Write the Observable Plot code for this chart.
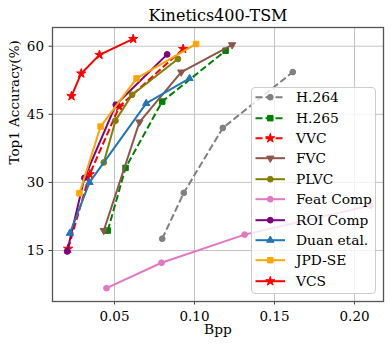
<!DOCTYPE html>
<html><head><meta charset="utf-8">
<script src="https://cdn.jsdelivr.net/npm/d3@7"></script>
<script src="https://cdn.jsdelivr.net/npm/@observablehq/plot@0.6"></script>
<style>
body{margin:0;background:#fff;}
#wrap{position:relative;width:391px;height:346px;font-family:"DejaVu Serif",serif;}
#legend{position:absolute;left:251px;top:86.5px;width:125px;height:207.5px;box-sizing:border-box;background:rgba(255,255,255,0.8);border:1px solid #cccccc;border-radius:4px;}
.row{position:absolute;left:0;height:20.4px;width:123px;}
.row svg{position:absolute;left:0;top:0;}
.row span{position:absolute;left:44px;top:0;line-height:20.4px;font-size:13.8px;color:#000;white-space:nowrap;}
</style></head>
<body><div id="wrap"></div>
<script>
// ---- data ----
const title = "Kinetics400-TSM";
const xLabel = "Bpp";
const yLabel = "Top1 Accuracy(%)";
const xTicks = [0.05, 0.10, 0.15, 0.20];
const yTicks = [15, 30, 45, 60];

const seriesNames = ["H.264", "H.265", "VVC", "FVC", "PLVC", "Feat Comp", "ROI Comp", "Duan etal.", "JPD-SE", "VCS"];

const h264Bpp = [0.0798, 0.0933, 0.1177, 0.1614];
const h264Acc = [17.6, 27.7, 42.0, 54.3];
const h265Bpp = [0.0458, 0.0569, 0.0798, 0.1194];
const h265Acc = [19.4, 33.2, 47.8, 59.0];
const vvcBpp = [0.0210, 0.0345, 0.0530, 0.0929];
const vvcAcc = [15.4, 31.8, 46.7, 59.4];
const fvcBpp = [0.0433, 0.0656, 0.0917, 0.1235];
const fvcAcc = [19.4, 43.3, 54.3, 60.3];
const plvcBpp = [0.0433, 0.0506, 0.0610, 0.0896];
const plvcAcc = [34.4, 43.6, 49.3, 57.2];
const featBpp = [0.0450, 0.0794, 0.1313, 0.2100];
const featAcc = [6.7, 12.3, 18.5, 24.9];
const roiBpp = [0.0204, 0.0312, 0.0508, 0.0829];
const roiAcc = [14.8, 31.0, 47.1, 58.2];
const duanBpp = [0.0221, 0.0344, 0.0698, 0.0969];
const duanAcc = [18.8, 30.0, 47.4, 52.9];
const jpdBpp = [0.0281, 0.0413, 0.0638, 0.1010];
const jpdAcc = [27.6, 42.3, 52.9, 60.5];
const vcsBpp = [0.0231, 0.0292, 0.0406, 0.0617];
const vcsAcc = [49.0, 54.0, 58.1, 61.6];

const bppLists = [h264Bpp, h265Bpp, vvcBpp, fvcBpp, plvcBpp, featBpp, roiBpp, duanBpp, jpdBpp, vcsBpp];
const accLists = [h264Acc, h265Acc, vvcAcc, fvcAcc, plvcAcc, featAcc, roiAcc, duanAcc, jpdAcc, vcsAcc];

// ---- styles ----
const colors = ["#808080", "#008000", "#ff0000", "#8c564b", "#808000", "#e377c2", "#800080", "#1f77b4", "#ffa500", "#ff0000"];
const dashed = [true, true, true, false, false, false, false, false, false, false];
const triangleDown = {
  draw(ctx, size) {
    const y = Math.sqrt(size / (Math.sqrt(3) * 3));
    ctx.moveTo(0, 2 * y);
    ctx.lineTo(-Math.sqrt(3) * y, -y);
    ctx.lineTo(Math.sqrt(3) * y, -y);
    ctx.closePath();
  }
};
const markerTypes = [d3.symbolCircle, d3.symbolSquare, d3.symbolStar, triangleDown, d3.symbolCircle, d3.symbolCircle, d3.symbolCircle, d3.symbolTriangle, d3.symbolSquare, d3.symbolStar];
function markerR(t) {
  if (t === d3.symbolStar) return 2.9;
  if (t === d3.symbolSquare) return 3.1;
  if (t === d3.symbolCircle) return 2.9;
  return 2.7;
}

const table = [];
seriesNames.forEach((name, i) => {
  bppLists[i].forEach((b, j) => table.push({series: name, bpp: b, acc: accLists[i][j]}));
});

const seriesMarks = [];
seriesNames.forEach((name, i) => {
  const d = table.filter(r => r.series === name);
  seriesMarks.push(Plot.line(d, {x: "bpp", y: "acc", stroke: colors[i], strokeWidth: 2,
    strokeDasharray: dashed[i] ? "7,3" : null, strokeLinecap: "butt", strokeLinejoin: "round"}));
  seriesMarks.push(Plot.dot(d, {x: "bpp", y: "acc", symbol: markerTypes[i], r: markerR(markerTypes[i]),
    fill: colors[i], stroke: colors[i], strokeWidth: 1}));
});

const chart = Plot.plot({
  width: 391, height: 346,
  marginLeft: 52, marginRight: 8, marginTop: 27, marginBottom: 45,
  x: {domain: [0.01125, 0.2181]},
  y: {domain: [3.77, 64.12]},
  style: {fontFamily: "'DejaVu Serif', serif", fontSize: "13.5px", color: "#000", background: "#fff", overflow: "visible"},
  marks: [
    Plot.gridX(xTicks, {stroke: "#c4c4c4", strokeOpacity: 1, strokeWidth: 1}),
    Plot.gridY(yTicks, {stroke: "#c4c4c4", strokeOpacity: 1, strokeWidth: 1}),
    Plot.axisX(xTicks, {tickFormat: d3.format(".2f"), tickSize: 3.5, tickPadding: 6, label: null, fontSize: 13.5, stroke: "#444"}),
    Plot.axisY(yTicks, {tickSize: 3.5, tickPadding: 5, label: null, fontSize: 13.5, stroke: "#444"}),
    ...seriesMarks,
    Plot.frame({stroke: "#555", strokeWidth: 1.3}),
    Plot.text([title], {text: d => d, frameAnchor: "top", lineAnchor: "bottom", dy: -7, fontSize: 16, fill: "#000"}),
    Plot.text([xLabel], {text: d => d, frameAnchor: "bottom", lineAnchor: "bottom", dy: 32, fontSize: 13.8, fill: "#000"}),
    Plot.text([yLabel], {text: d => d, frameAnchor: "left", rotate: -90, dx: -38, fontSize: 13.5, fill: "#000"})
  ]
});

const wrap = document.getElementById("wrap");
wrap.appendChild(chart);

// ---- legend ----
const legend = document.createElement("div");
legend.id = "legend";
seriesNames.forEach((name, i) => {
  const row = document.createElement("div");
  row.className = "row";
  row.style.top = (-0.3 + i * 20.4) + "px";
  const svg = d3.create("svg").attr("width", 42).attr("height", 20.4);
  svg.append("line").attr("x1", 3.5).attr("x2", 33).attr("y1", 10.2).attr("y2", 10.2)
    .attr("stroke", colors[i]).attr("stroke-width", 2)
    .attr("stroke-dasharray", dashed[i] ? "7,3" : null);
  const r = markerR(markerTypes[i]);
  svg.append("path").attr("d", d3.symbol(markerTypes[i], Math.PI * r * r)())
    .attr("transform", "translate(18.3,10.2)")
    .attr("fill", colors[i]).attr("stroke", colors[i]).attr("stroke-width", 1);
  row.appendChild(svg.node());
  const span = document.createElement("span");
  span.textContent = name;
  row.appendChild(span);
  legend.appendChild(row);
});
wrap.appendChild(legend);
</script>
</body></html>
